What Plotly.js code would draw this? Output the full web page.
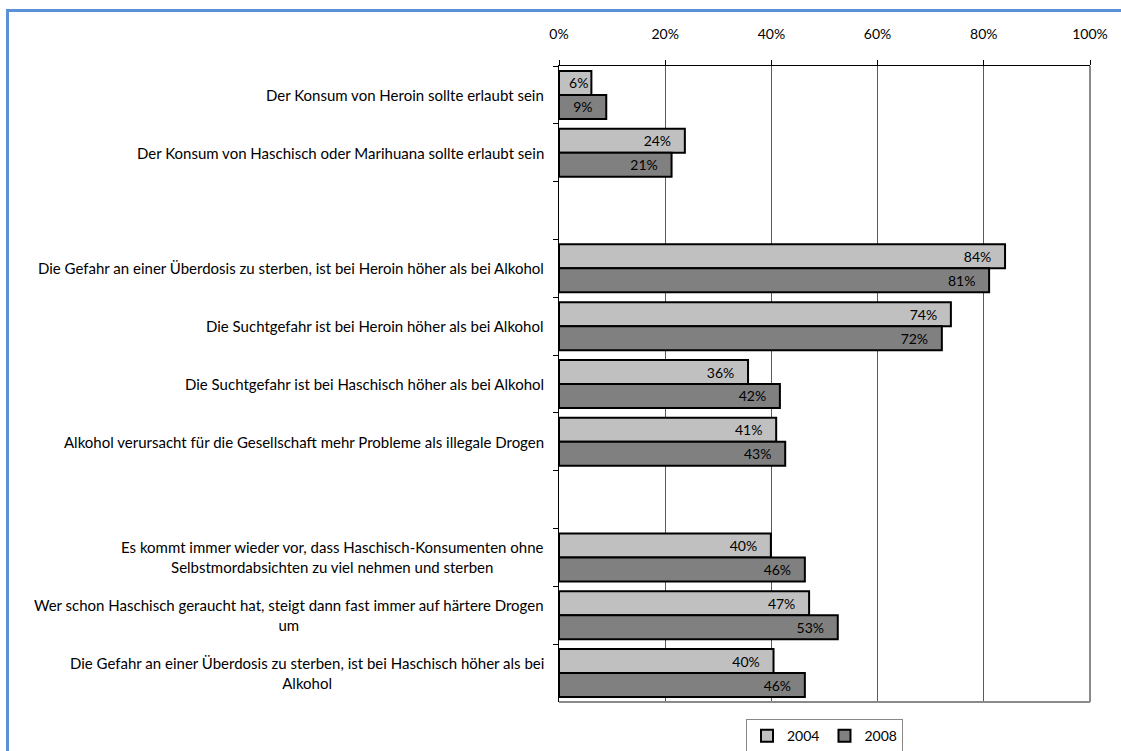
<!DOCTYPE html>
<html>
<head>
<meta charset="utf-8">
<script src="https://cdn.plot.ly/plotly-3.0.1.min.js"></script>
<style>
  html, body { margin: 0; padding: 0; background: #fff; }
  #chart { width: 1121px; height: 751px; }
  #frame { position: absolute; left: 6px; top: 9px; width: 1300px; height: 900px;
           border-left: 3px solid #5b8fd6; border-top: 3px solid #5b8fd6; pointer-events: none; }
</style>
</head>
<body>
<div id="chart"></div>
<div id="frame"></div>
<script>
const categories = [
  "Der Konsum von Heroin sollte erlaubt sein",
  "Der Konsum von Haschisch oder Marihuana sollte erlaubt sein",
  " ",
  "Die Gefahr an einer Überdosis zu sterben, ist bei Heroin höher als bei Alkohol",
  "Die Suchtgefahr ist bei Heroin höher als bei Alkohol",
  "Die Suchtgefahr ist bei Haschisch höher als bei Alkohol",
  "Alkohol verursacht für die Gesellschaft mehr Probleme als illegale Drogen",
  "  ",
  "Es kommt immer wieder vor, dass Haschisch-Konsumenten ohne<br>Selbstmordabsichten zu viel nehmen und sterben",
  "Wer schon Haschisch geraucht hat, steigt dann fast immer auf härtere Drogen<br>um",
  "Die Gefahr an einer Überdosis zu sterben, ist bei Haschisch höher als bei<br>Alkohol"
];
const values2004 = [6.1, 23.7, null, 84.0, 73.8, 35.6, 40.9, null, 39.9, 47.1, 40.4];
const values2008 = [8.9, 21.2, null, 81.0, 72.1, 41.6, 42.6, null, 46.3, 52.5, 46.3];
const seriesNames = ["2004", "2008"];
const tickValues = [0, 20, 40, 60, 80, 100];
const tickLabels = ["0%", "20%", "40%", "60%", "80%", "100%"];

const FONT = "Lato, Open Sans, sans-serif";
const FS_CAT = 15;
const FS = 14;
function labels(vals) {
  return vals.map(v => v == null ? "" : Math.round(v) + "%" + (v > 8 ? "\u00a0\u00a0\u00a0" : ""));
}

const common = {
  type: "bar", orientation: "h", y: categories,
  textposition: "inside", insidetextanchor: "end", constraintext: "none",
  textfont: { family: FONT, size: FS, color: "#000" },
  hoverinfo: "x+y", cliponaxis: false
};
const traces = [
  Object.assign({}, common, { name: seriesNames[0], x: values2004, text: labels(values2004),
    marker: { color: "#c0c0c0", line: { color: "#000", width: 2 } } }),
  Object.assign({}, common, { name: seriesNames[1], x: values2008, text: labels(values2008),
    marker: { color: "#808080", line: { color: "#000", width: 2 } } })
];

const annotations = categories.filter(c => c.trim() !== "").map(c => ({
  xref: "paper", yref: "y", x: 0, y: c, text: c, showarrow: false,
  xanchor: "right", align: "center", xshift: -13,
  font: { family: FONT, size: FS_CAT, color: "#000" }
}));

const layout = {
  width: 1121, height: 751,
  margin: { l: 559, r: 31, t: 66, b: 49, autoexpand: false },
  paper_bgcolor: "#fff", plot_bgcolor: "#fff",
  font: { family: FONT, size: FS, color: "#000" },
  barmode: "group", bargap: 0.17, bargroupgap: 0,
  showlegend: true,
  legend: {
    orientation: "h", x: 0.5, xanchor: "center", y: -0.027, yanchor: "top",
    bordercolor: "#888", borderwidth: 1, font: { family: FONT, size: FS, color: "#000" },
    itemwidth: 30, traceorder: "normal"
  },
  xaxis: {
    side: "top", range: [0, 100], tickvals: tickValues, ticktext: tickLabels,
    ticks: "outside", ticklen: 5, tickcolor: "#000", tickwidth: 1,
    showline: true, linecolor: "#000", linewidth: 1,
    showgrid: true, gridcolor: "#5a5a5a", gridwidth: 1, zeroline: false,
    ticklabelstandoff: 15, tickfont: { family: FONT, size: FS, color: "#000" },
    fixedrange: true
  },
  yaxis: {
    type: "category", categoryorder: "array", categoryarray: categories,
    autorange: "reversed", showticklabels: false,
    ticks: "outside", tickson: "boundaries", ticklen: 5, tickcolor: "#000",
    showline: true, linecolor: "#000", linewidth: 1, showgrid: false, zeroline: false,
    fixedrange: true
  },
  annotations: annotations,
  shapes: [
    { type: "line", xref: "paper", yref: "paper", x0: 1, x1: 1, y0: 0, y1: 1, line: { color: "#8a8a8a", width: 2 } },
    { type: "line", xref: "paper", yref: "paper", x0: 0, x1: 1, y0: 0, y1: 0, line: { color: "#8a8a8a", width: 2 } }
  ]
};

Plotly.newPlot("chart", traces, layout, { displayModeBar: false, staticPlot: true });
</script>
</body>
</html>
